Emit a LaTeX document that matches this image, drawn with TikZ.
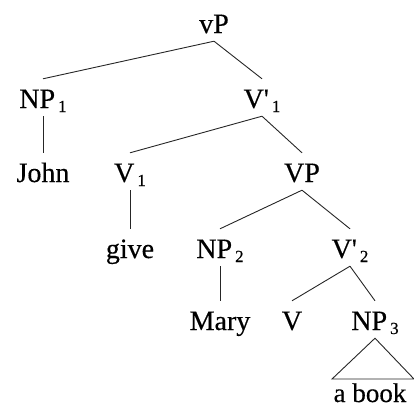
\documentclass[tikz,border=0pt]{standalone}
\usepackage{fontspec}
\setmainfont{Liberation Serif}[Ligatures=TeXOff, FakeBold=0.4]
\usetikzlibrary{positioning}

% small lowered index after a category label
\newcommand{\idx}[1]{\kern3pt\raisebox{-4pt}{\fontsize{17}{17}\selectfont #1}}

\begin{document}
\begin{tikzpicture}[x=1pt, y=-1pt,
    lab/.style={anchor=base, font=\fontsize{28}{30}\selectfont,
      text height=21pt, text depth=0pt, inner xsep=0pt, inner ysep=8pt},
    branch/.style={black!85, line width=0.9pt}]

  % --- Frame ---
  \useasboundingbox (0,0) rectangle (414,407);

  % --- Tree labels (x = branch point, y = baseline) ---
  \node[lab] (vP)   at (214,33)  {vP};

  \node[lab] (NPa)  at (43,108)  {NP\idx{1}};
  \node[lab] (Vba)  at (262,108) {V'\idx{1}};

  \node[lab] (John) at (43,182)  {John};
  \node[lab] (Va)   at (130,182) {V\idx{1}};
  \node[lab] (VP)   at (302,182) {VP};

  \node[lab] (give) at (130,258) {give};
  \node[lab] (NPb)  at (220,258) {NP\idx{2}};
  \node[lab] (Vbb)  at (350,258) {V'\idx{2}};

  \node[lab] (Mary) at (220,330) {Mary};
  \node[lab] (V)    at (292,330) {V};
  \node[lab] (NPc)  at (375,330) {NP\idx{3}};

  % --- Branches ---
  \draw[branch] (vP.south)  -- (NPa.north);
  \draw[branch] (vP.south)  -- (Vba.north);
  \draw[branch] (NPa.south) -- (John.north);
  \draw[branch] (Vba.south) -- (Va.north);
  \draw[branch] (Vba.south) -- (VP.north);
  \draw[branch] (Va.south)  -- (give.north);
  \draw[branch] (VP.south)  -- (NPb.north);
  \draw[branch] (VP.south)  -- (Vbb.north);
  \draw[branch] (NPb.south) -- (Mary.north);
  \draw[branch] (Vbb.south) -- (V.north);
  \draw[branch] (Vbb.south) -- (NPc.north);

  % --- Roof over the object ---
  \coordinate (roofL) at (332,379);
  \coordinate (roofR) at (414,379);
  \draw[branch] (NPc.south) -- (roofL) -- (roofR) -- cycle;
  \node[anchor=base, font=\fontsize{27}{30}\selectfont, inner sep=0pt] (book) at (370,402) {a book};

\end{tikzpicture}
\end{document}
